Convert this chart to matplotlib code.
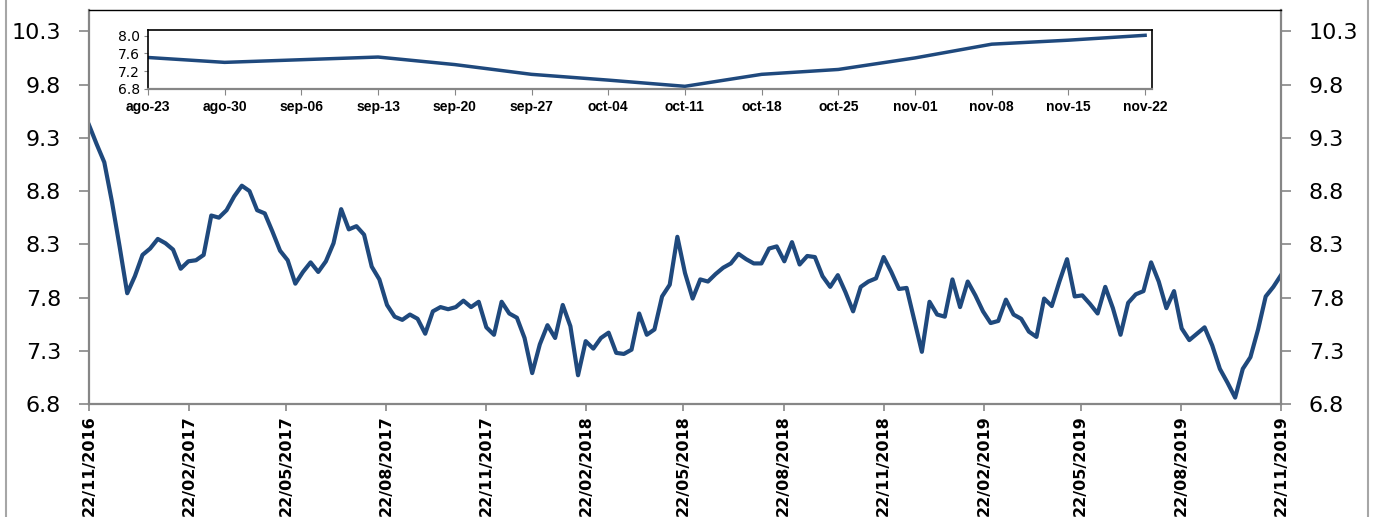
import matplotlib
matplotlib.use('Agg')
import matplotlib.pyplot as plt
import numpy as np
import pandas as pd
from matplotlib import font_manager
from matplotlib.lines import Line2D

# weekly series, 22/11/2016 -> 22/11/2019
tasa = [9.42, 9.24, 9.07, 8.70, 8.28, 7.84, 8.00, 8.20, 8.26, 8.35, 8.31, 8.25, 8.07,
        8.14, 8.15, 8.20, 8.57, 8.55, 8.62, 8.75, 8.85, 8.80, 8.62, 8.59, 8.42, 8.24,
        8.15, 7.93, 8.04, 8.13, 8.04, 8.14, 8.31, 8.63, 8.44, 8.47, 8.39, 8.09, 7.97,
        7.73, 7.62, 7.59, 7.64, 7.60, 7.46, 7.67, 7.71, 7.69, 7.71, 7.77, 7.71, 7.76,
        7.52, 7.45, 7.76, 7.65, 7.61, 7.42, 7.09, 7.36, 7.54, 7.42, 7.73, 7.53, 7.07,
        7.39, 7.32, 7.42, 7.47, 7.28, 7.27, 7.31, 7.65, 7.45, 7.50, 7.81, 7.92,
        8.37, 8.03, 7.79, 7.97, 7.95, 8.02, 8.08, 8.12, 8.21, 8.16, 8.12, 8.12, 8.26,
        8.28, 8.14, 8.32, 8.11, 8.19, 8.18, 8.00, 7.90, 8.01, 7.85, 7.67, 7.90, 7.95,
        7.98, 8.18, 8.04, 7.88, 7.89, 7.59, 7.29, 7.76, 7.64, 7.62, 7.97, 7.71, 7.95,
        7.82, 7.67, 7.56, 7.58, 7.78, 7.64, 7.60, 7.48, 7.43, 7.79, 7.72, 7.95,
        8.16, 7.81, 7.82, 7.74, 7.65, 7.90, 7.70, 7.45, 7.75, 7.83, 7.86, 8.13, 7.95,
        7.70, 7.86, 7.51, 7.40, 7.46, 7.52, 7.35, 7.13, 7.00, 6.86, 7.13, 7.24, 7.50,
        7.81, 7.90, 8.01]
fechas = pd.date_range('2016-11-22', '2019-11-22', periods=len(tasa))
fechas_tick = pd.date_range('2016-11-22', '2019-11-22', freq=pd.DateOffset(months=3))
y_ticks = [6.8, 7.3, 7.8, 8.3, 8.8, 9.3, 9.8, 10.3]

# zoom: last 14 weeks
semanas = ['ago-23', 'ago-30', 'sep-06', 'sep-13', 'sep-20', 'sep-27', 'oct-04',
           'oct-11', 'oct-18', 'oct-25', 'nov-01', 'nov-08', 'nov-15', 'nov-22']
tasa_zoom = tasa[-14:]
y_ticks_zoom = [6.8, 7.2, 7.6, 8.0]

azul = '#1F497D'
gris = '#868686'

try:
    font_manager.findfont('Liberation Sans Narrow', fallback_to_default=False)
    narrow, xl_size = 'Liberation Sans Narrow', 16.5
except Exception:
    narrow, xl_size = 'DejaVu Sans', 11.5

fig = plt.figure(figsize=(13.78, 5.17), dpi=100)

ax = fig.add_axes([0.0646, 0.2186, 0.865, 0.762])
ax.plot(fechas, tasa, color=azul, lw=3)
ax.set_xlim(fechas[0], fechas[-1])
ax.set_ylim(6.8, 10.5)
ax.set_yticks(y_ticks)
ax.set_yticklabels([f'{v:.1f}' for v in y_ticks])
ax.set_xticks(fechas_tick)
ax.set_xticklabels([d.strftime('%d/%m/%Y') for d in fechas_tick], rotation=90,
                   fontweight='bold', family=narrow, fontsize=xl_size)
ax.tick_params(axis='y', left=True, right=True, labelleft=True, labelright=True,
               length=7, width=1.2, color=gris, pad=13, labelsize=16)
ax.tick_params(axis='x', length=5, width=1.2, color=gris, pad=3)
for s in ['left', 'right', 'bottom']:
    ax.spines[s].set_color(gris)
    ax.spines[s].set_linewidth(1.6)
ax.spines['top'].set_color('black')
ax.spines['top'].set_linewidth(1)

ax2 = fig.add_axes([0.1074, 0.8279, 0.7286, 0.1141])
ax2.plot(range(len(tasa_zoom)), tasa_zoom, color=azul, lw=2.5)
ax2.set_xlim(0, 13.09)
ax2.set_ylim(6.8, 8.13)
ax2.set_yticks(y_ticks_zoom)
ax2.set_yticklabels([f'{v:.1f}' for v in y_ticks_zoom])
ax2.set_xticks(range(len(semanas)))
ax2.set_xticklabels(semanas, fontweight='bold', fontsize=10, family='Liberation Sans')
ax2.tick_params(axis='y', length=3, color=gris, pad=3, labelsize=10)
ax2.tick_params(axis='x', length=4, color=gris, pad=4)
for s in ax2.spines.values():
    s.set_color('black')
    s.set_linewidth(1.2)
ax2.spines['bottom'].set_color(gris)
ax2.spines['bottom'].set_linewidth(1.6)

# outer chart frame
for xf in [0.0044, 0.9927]:
    fig.add_artist(Line2D([xf, xf], [0, 1], transform=fig.transFigure,
                          color='#A6A6A6', lw=1.5))

fig.savefig('out.png', dpi=100)
